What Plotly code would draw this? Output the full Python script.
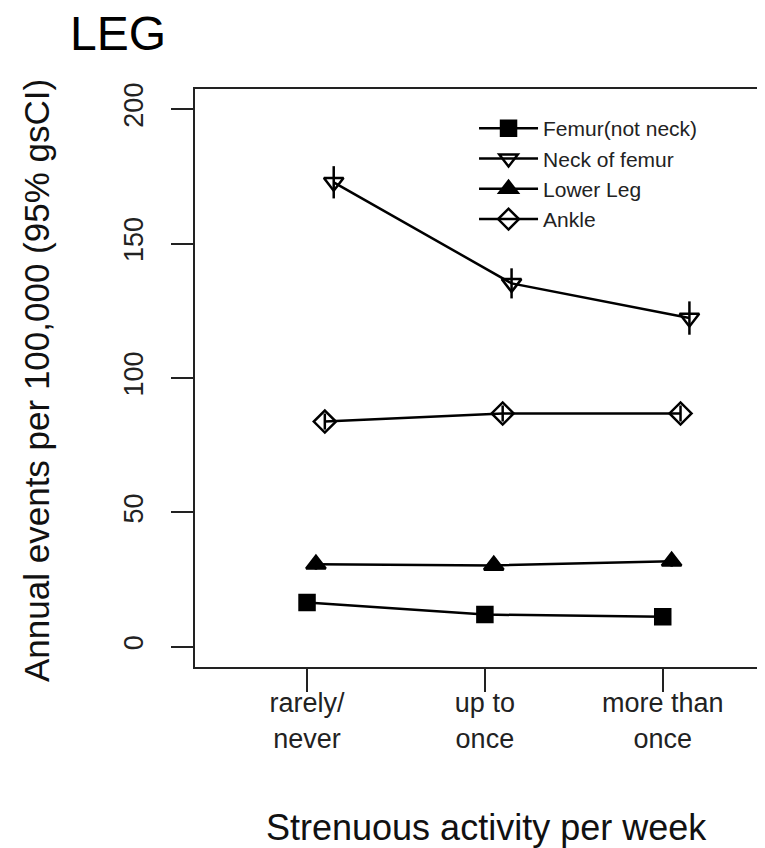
import plotly.graph_objects as go

categories = ["rarely/<br>never", "up to<br>once", "more than<br>once"]
cat_pos = [1, 2, 3]

series_names = ["Femur(not neck)", "Neck of femur", "Lower Leg", "Ankle"]
femur = [16.5, 12.0, 11.2]
neck = [172.8, 135.2, 122.3]
lower_leg = [30.7, 30.3, 31.8]
ankle = [83.8, 86.8, 86.8]

femur_err = [1.5, 1.2, 1.2]
neck_err = [6.0, 5.6, 6.2]
lower_leg_err = [2.0, 2.0, 2.0]
ankle_err = [3.0, 3.0, 3.0]

values = [femur, neck, lower_leg, ankle]
errors = [femur_err, neck_err, lower_leg_err, ankle_err]

offsets = [0.0, 0.15, 0.05, 0.10]
symbols = ["square", "triangle-down-open", "triangle-up", "diamond-open"]
sizes = [15, 17, 17, 17]

FONT = "Liberation Sans, Arial, Helvetica, sans-serif"

fig = go.Figure()
for name, vals, errs, off, sym, sz in zip(series_names, values, errors, offsets, symbols, sizes):
    fig.add_trace(go.Scatter(
        x=[c + off for c in cat_pos],
        y=vals,
        name=name,
        mode="lines+markers",
        line=dict(color="black", width=2.5),
        marker=dict(symbol=sym, size=sz, color="black",
                    line=dict(color="black", width=2.5)),
        error_y=dict(type="data", array=errs, visible=True, width=0,
                     thickness=2.5, color="black"),
    ))

fig.update_layout(
    width=757, height=840,
    margin=dict(l=187, r=8, t=81, b=181),
    paper_bgcolor="white", plot_bgcolor="white",
    font=dict(family=FONT, color="black"),
    showlegend=True,
    legend=dict(x=0.4965, y=0.967, xanchor="left", yanchor="top",
                bgcolor="rgba(0,0,0,0)", font=dict(size=21, color="#222"),
                tracegroupgap=0, itemwidth=59),
    title=dict(text="LEG", x=62 / 757, xref="container", xanchor="left",
               y=0.970, yref="container", yanchor="middle",
               font=dict(size=48, family=FONT, color="black")),
    annotations=[
        dict(text="Annual events per 100,000 (95% gsCI)", textangle=-90,
             xref="paper", yref="paper", x=-0.283, y=0.4965,
             xanchor="center", yanchor="middle", showarrow=False,
             font=dict(size=35, family=FONT, color="#111")),
        dict(text="Strenuous activity per week",
             xref="paper", yref="paper", x=0.518, y=-0.2785,
             xanchor="center", yanchor="middle", showarrow=False,
             font=dict(size=36, family=FONT, color="#111")),
    ],
)

fig.update_xaxes(
    range=[0.37, 3.53], tickvals=cat_pos, ticktext=categories,
    showgrid=False, zeroline=False, automargin=False,
    showline=True, mirror=True, linecolor="#222", linewidth=2,
    ticks="outside", ticklen=23, tickwidth=2, tickcolor="#222",
    ticklabelstandoff=-12,
    tickfont=dict(size=27, family=FONT, color="#222"),
)
fig.update_yaxes(
    range=[-7.5, 207.5], tickvals=[0, 50, 100, 150, 200],
    showgrid=False, zeroline=False, automargin=False,
    showline=True, mirror=True, linecolor="#222", linewidth=2,
    ticks="outside", ticklen=22, tickwidth=2, tickcolor="#222",
    tickangle=-90, ticklabelstandoff=17,
    tickfont=dict(size=27, family=FONT, color="#222"),
)

fig.write_html("out.html")
